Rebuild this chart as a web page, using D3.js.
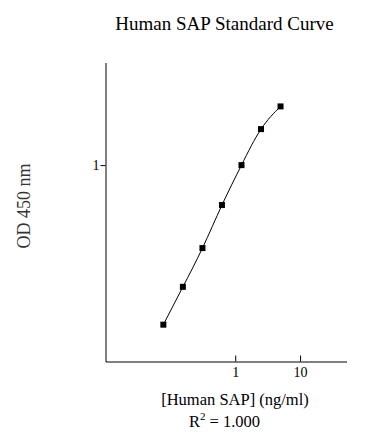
<!DOCTYPE html>
<html>
<head>
<meta charset="utf-8">
<script src="https://cdn.jsdelivr.net/npm/d3@7"></script>
<style>
  body { margin: 0; background: #fff; }
  svg text { font-family: "Liberation Serif", "Times New Roman", serif; fill: #000; }
</style>
</head>
<body>
<svg id="chart" width="388" height="444"></svg>
<script>
// standard concentrations (ng/ml) and measured OD
const concentrations = [0.078, 0.156, 0.3125, 0.625, 1.25, 2.5, 5];
const odValues = [0.154, 0.240, 0.378, 0.626, 1.00, 1.525, 1.99];
const xTicks = [1, 10];
const yTicks = [1];

const svg = d3.select('#chart');

const x = d3.scaleLog()
    .domain([0.01, 52])
    .range([105.5, 346.5]);

const y = d3.scaleLog()
    .domain([0.1, 3.33])
    .range([361.5, 62.5]);

// axes
const xAxis = d3.axisBottom(x).tickValues(xTicks).tickFormat(d3.format('d')).tickSize(6).tickSizeOuter(0);
const yAxis = d3.axisLeft(y).tickValues(yTicks).tickFormat(d3.format('d')).tickSize(5).tickSizeOuter(0).tickPadding(1);

const gx = svg.append('g')
    .attr('transform', 'translate(0,361.5)')
    .call(xAxis);
// ticks point up into the plot
gx.selectAll('.tick line').attr('y2', -6);
gx.selectAll('.tick text').attr('y', 6).attr('dy', '0.71em');

const gy = svg.append('g')
    .attr('transform', 'translate(105.5,0)')
    .call(yAxis);

svg.selectAll('.domain').attr('stroke', '#000');
svg.selectAll('.tick line').attr('stroke', '#000');
svg.selectAll('.tick text')
    .style('font-family', '"Liberation Serif", serif')
    .style('font-size', '14px');

// curve
const pts = concentrations.map((c, i) => [c, odValues[i]]);
const line = d3.line()
    .x(d => x(d[0]))
    .y(d => y(d[1]))
    .curve(d3.curveNatural);

svg.append('path')
    .datum(pts)
    .attr('d', line)
    .attr('fill', 'none')
    .attr('stroke', '#000')
    .attr('stroke-width', 1);

svg.append('g')
    .selectAll('rect')
    .data(pts)
    .join('rect')
    .attr('x', d => x(d[0]) - 3)
    .attr('y', d => y(d[1]) - 3)
    .attr('width', 6)
    .attr('height', 6)
    .attr('fill', '#000');

// titles
svg.append('text')
    .attr('x', 224.5)
    .attr('y', 30)
    .attr('text-anchor', 'middle')
    .style('font-size', '19px')
    .text('Human SAP Standard Curve');

svg.append('text')
    .attr('transform', 'translate(30,206) rotate(-90)')
    .attr('text-anchor', 'middle')
    .style('font-size', '18px')
    .style('fill', '#333')
    .text('OD 450 nm');

svg.append('text')
    .attr('x', 235)
    .attr('y', 405)
    .attr('text-anchor', 'middle')
    .style('font-size', '16.5px')
    .text('[Human SAP] (ng/ml)');

const r2 = svg.append('text')
    .attr('x', 224.5)
    .attr('y', 427)
    .attr('text-anchor', 'middle')
    .style('font-size', '16.5px');
r2.append('tspan').text('R');
r2.append('tspan').attr('dy', -7).style('font-size', '11px').text('2');
r2.append('tspan').attr('dy', 7).text(' = 1.000');
</script>
</body>
</html>
